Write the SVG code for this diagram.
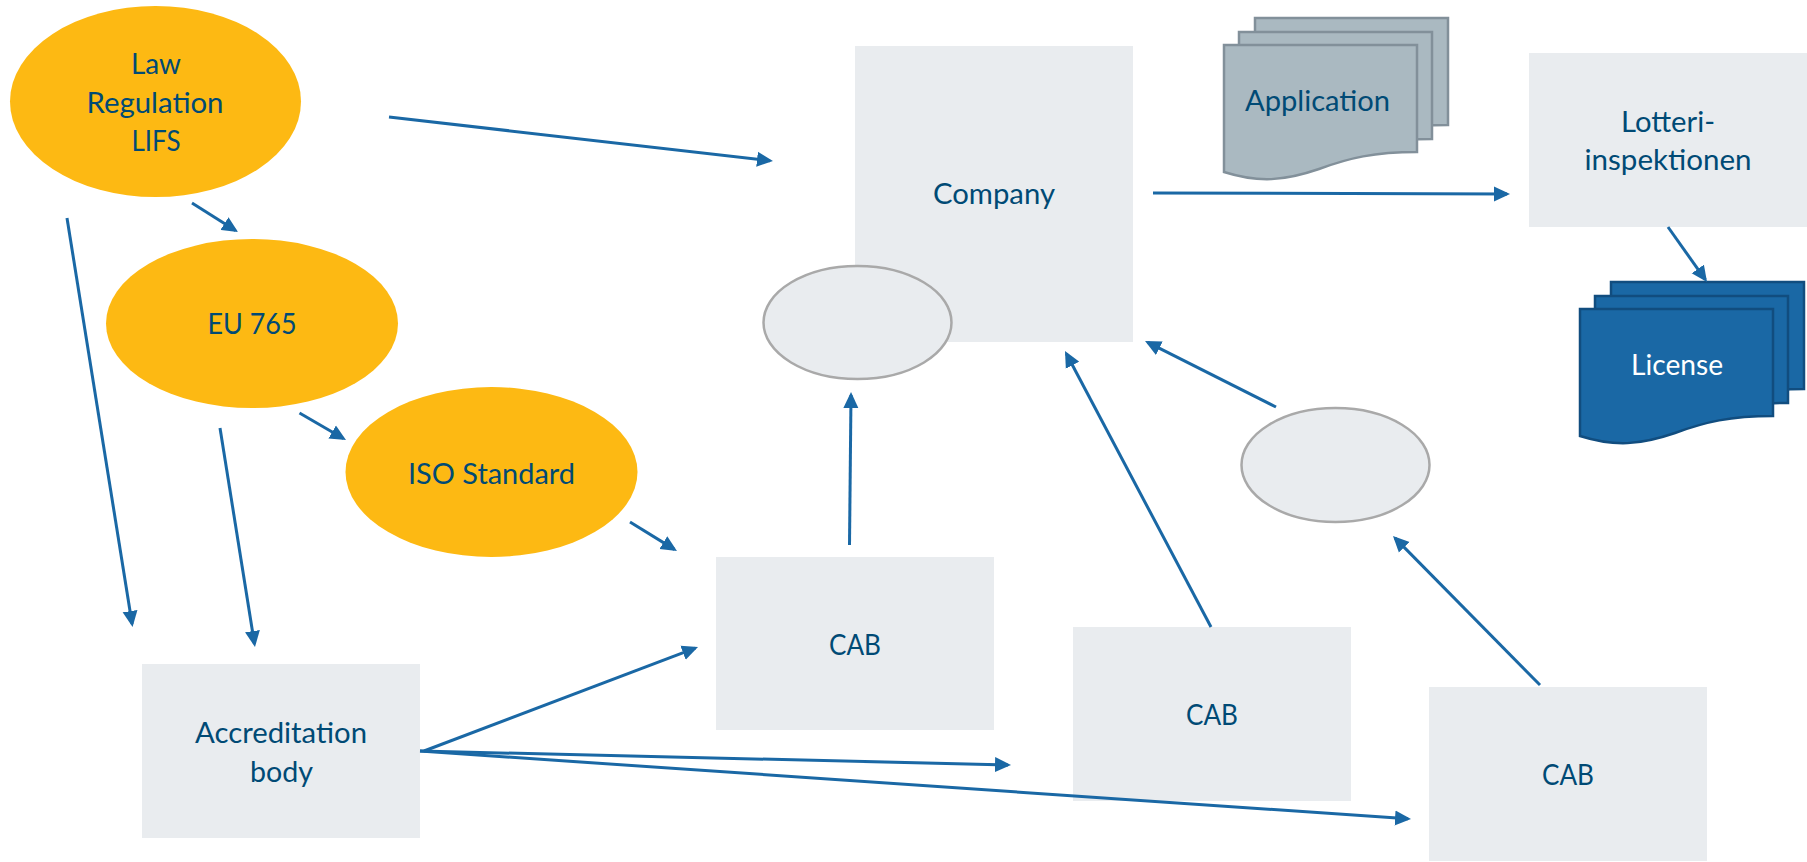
<svg xmlns="http://www.w3.org/2000/svg" width="1807" height="862" viewBox="0 0 1807 862">
<style>
text{font-family:"Lato","Noto Sans",sans-serif;font-size:29px;fill:#004a75;text-anchor:middle}
.box{fill:#e9ecef}
.gold{fill:#fdb913}
.blank{fill:#e9ecef;stroke:#a9a9a9;stroke-width:2.5}
.app{fill:#aab9c1;stroke:#82909a;stroke-width:2.5}
.lic{fill:#1a68a5;stroke:#114d7f;stroke-width:2.5}
.lic-t{fill:#fff}
#connectors line{stroke:#1a68a5;stroke-width:3;fill:none;marker-end:url(#arrow)}
</style>
<defs>
<marker id="arrow" markerUnits="userSpaceOnUse" markerWidth="18" markerHeight="16" refX="13" refY="8" orient="auto"><path d="M0 0.5L16 8L0 15.5Z" fill="#1a68a5"/></marker>
<path id="doc" d="M0 0H193V107C150 107 125 113 95 124C60 136 35 138 0 127Z"/>
</defs>
<rect width="1807" height="862" fill="#fff"/>
<g id="law"><ellipse class="gold" cx="155.5" cy="101.5" rx="145.5" ry="95.5"/><text x="156" y="74" textLength="50" lengthAdjust="spacingAndGlyphs">Law</text><text x="155" y="113" textLength="137" lengthAdjust="spacingAndGlyphs">Regulation</text><text x="156" y="151" textLength="49" lengthAdjust="spacingAndGlyphs">LIFS</text></g>
<g id="eu765"><ellipse class="gold" cx="252" cy="323.5" rx="146" ry="84.5"/><text x="252" y="334" textLength="89" lengthAdjust="spacingAndGlyphs">EU 765</text></g>
<g id="iso"><ellipse class="gold" cx="491.5" cy="472" rx="146" ry="85"/><text x="491.5" y="484" textLength="167" lengthAdjust="spacingAndGlyphs">ISO Standard</text></g>
<g id="accreditation"><rect class="box" x="142" y="664" width="278" height="174"/><text x="281" y="743" textLength="172" lengthAdjust="spacingAndGlyphs">Accreditation</text><text x="281.5" y="782" textLength="63" lengthAdjust="spacingAndGlyphs">body</text></g>
<g id="company"><rect class="box" x="855" y="46" width="278" height="296"/><text x="994" y="204" textLength="122" lengthAdjust="spacingAndGlyphs">Company</text></g>
<g id="blank1"><ellipse class="blank" cx="857.5" cy="322.5" rx="94" ry="56.5"/></g>
<g id="blank2"><ellipse class="blank" cx="1335.5" cy="465" rx="94" ry="57"/></g>
<g id="cab1"><rect class="box" x="716" y="557" width="278" height="173"/><text x="855" y="655" textLength="52" lengthAdjust="spacingAndGlyphs">CAB</text></g>
<g id="cab2"><rect class="box" x="1073" y="627" width="278" height="174"/><text x="1212" y="725" textLength="52" lengthAdjust="spacingAndGlyphs">CAB</text></g>
<g id="cab3"><rect class="box" x="1429" y="687" width="278" height="174"/><text x="1568" y="785" textLength="52" lengthAdjust="spacingAndGlyphs">CAB</text></g>
<g id="lotteri"><rect class="box" x="1529" y="53" width="278" height="174"/><text x="1668" y="132" textLength="94" lengthAdjust="spacingAndGlyphs">Lotteri-</text><text x="1668" y="170" textLength="167" lengthAdjust="spacingAndGlyphs">inspektionen</text></g>
<g id="application"><use href="#doc" class="app" x="1255" y="18"/><use href="#doc" class="app" x="1239" y="32"/><use href="#doc" class="app" x="1224" y="45"/><text x="1317.5" y="111" textLength="145" lengthAdjust="spacingAndGlyphs">Application</text></g>
<g id="license"><use href="#doc" class="lic" x="1611" y="282"/><use href="#doc" class="lic" x="1595" y="296"/><use href="#doc" class="lic" x="1580" y="309"/><text class="lic-t" x="1677" y="375" textLength="92" lengthAdjust="spacingAndGlyphs">License</text></g>
<g id="connectors">
<line x1="389" y1="117" x2="770" y2="160.7"/>
<line x1="192" y1="203" x2="235.5" y2="230.4"/>
<line x1="67" y1="218" x2="132.1" y2="624"/>
<line x1="220" y1="428" x2="254.5" y2="644"/>
<line x1="299.5" y1="413" x2="343.4" y2="438.5"/>
<line x1="630" y1="522" x2="674.4" y2="549.4"/>
<line x1="424" y1="751" x2="695.2" y2="648.1"/>
<line x1="420" y1="751" x2="1008" y2="764.9"/>
<line x1="420" y1="751" x2="1408" y2="818.8"/>
<line x1="849.5" y1="545" x2="851" y2="395"/>
<line x1="1211" y1="627" x2="1066.4" y2="353.7"/>
<line x1="1540" y1="685" x2="1395.1" y2="538.1"/>
<line x1="1276" y1="407" x2="1147.7" y2="342.4"/>
<line x1="1153" y1="193" x2="1507" y2="194"/>
<line x1="1668" y1="227" x2="1705.3" y2="279.6"/>
</g>
</svg>
